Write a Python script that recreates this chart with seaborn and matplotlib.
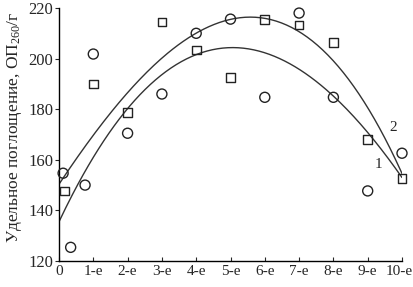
import numpy as np
import pandas as pd
import matplotlib
matplotlib.use("Agg")
import matplotlib.pyplot as plt
import matplotlib.transforms as mtransforms
import seaborn as sns

# ---- data ----
tick_pos = [0, 1, 2, 3, 4, 5, 6, 7, 8, 9, 10]
tick_labels = ["0", "1-е", "2-е", "3-е", "4-е", "5-е", "6-е", "7-е", "8-е", "9-е", "10-е"]
y_ticks = [120, 140, 160, 180, 200, 220]

circles_x = [0.12, 0.34, 0.76, 1.0, 2.0, 3.0, 4.0, 5.0, 6.0, 7.0, 8.0, 9.0, 10.0]
circles_y = [154.7, 125.4, 150.0, 201.8, 170.5, 186.0, 210.0, 215.6, 184.7, 218.0, 184.7, 147.7, 162.6]

squares_x = [0.15, 1, 2, 3, 4, 5, 6, 7, 8, 9, 10]
squares_y = [147.7, 190.0, 178.6, 214.5, 203.4, 192.6, 215.6, 213.3, 206.4, 168.0, 152.7]

curve_x = [0, 2, 3, 4, 5, 6, 7, 8, 9, 10]
curve1_y = [136.4, 178.6, 191.5, 203.7, 205.8, 203.4, 195.5, 184.5, 168.0, 155.0]
curve2_y = [150.5, 186.0, 200.5, 210.2, 215.6, 215.6, 211.0, 199.4, 179.7, 155.0]

ylabel = "Удельное поглощение, ОП$_{\\mathrm{260}}$/г"

# ---- style ----
sns.set_style("ticks")
plt.rcParams["font.family"] = ["Liberation Serif", "DejaVu Serif"]
plt.rcParams["mathtext.fontset"] = "custom"
plt.rcParams["mathtext.rm"] = "Liberation Serif"
plt.rcParams["mathtext.it"] = "Liberation Serif:italic"

fig = plt.figure(figsize=(4.14, 2.87), dpi=100)
ax = fig.add_axes([59 / 414, 1 - 261 / 287, (402 - 59) / 414, (261 - 8) / 287])

# smooth curves through the read-off curve points
xs = np.linspace(0, 10, 200)
df_curves = pd.DataFrame({
    "x": np.concatenate([xs, xs]),
    "y": np.concatenate([np.polyval(np.polyfit(curve_x, curve1_y, 3), xs),
                         np.polyval(np.polyfit(curve_x, curve2_y, 3), xs)]),
    "curve": ["1"] * len(xs) + ["2"] * len(xs),
})
sns.lineplot(data=df_curves, x="x", y="y", units="curve", estimator=None,
             color="#333333", lw=1.0, ax=ax, legend=False)

df_c = pd.DataFrame({"x": circles_x, "y": circles_y})
df_s = pd.DataFrame({"x": squares_x, "y": squares_y})
sns.scatterplot(data=df_c, x="x", y="y", marker="o", s=52, facecolor="none",
                edgecolor="#222222", linewidth=1.0, ax=ax, clip_on=False, zorder=3)
sns.scatterplot(data=df_s, x="x", y="y", marker="s", s=40, facecolor="none",
                edgecolor="#222222", linewidth=1.0, ax=ax, clip_on=False, zorder=3)

ax.text(9.74, 172.6, "2", fontsize=11, ha="center", va="center")
ax.text(9.3, 158.0, "1", fontsize=11, ha="center", va="center")

ax.set_xlim(0, 10)
ax.set_ylim(120, 220)
ax.set_xticks(tick_pos)
ax.set_xticklabels(tick_labels)
ax.set_yticks(y_ticks)
ax.tick_params(axis="x", direction="in", length=3, width=0.8, labelsize=11, pad=3)
ax.tick_params(axis="y", direction="out", length=3, width=0.8, labelsize=12, pad=1)
# nudge the last x tick label a little left so it stays inside the image
last = ax.get_xticklabels()[-1]
last.set_transform(last.get_transform() +
                   mtransforms.ScaledTranslation(-3 / 100, 0, fig.dpi_scale_trans))
ax.set_xlabel("")
ax.set_ylabel(ylabel, fontsize=12.5, labelpad=1)
ax.yaxis.set_label_coords(-0.103, 0.53)
for side in ["top", "right"]:
    ax.spines[side].set_visible(False)
for side in ["left", "bottom"]:
    ax.spines[side].set_linewidth(1.0)
    ax.spines[side].set_color("black")

fig.savefig("out.png", dpi=100)
